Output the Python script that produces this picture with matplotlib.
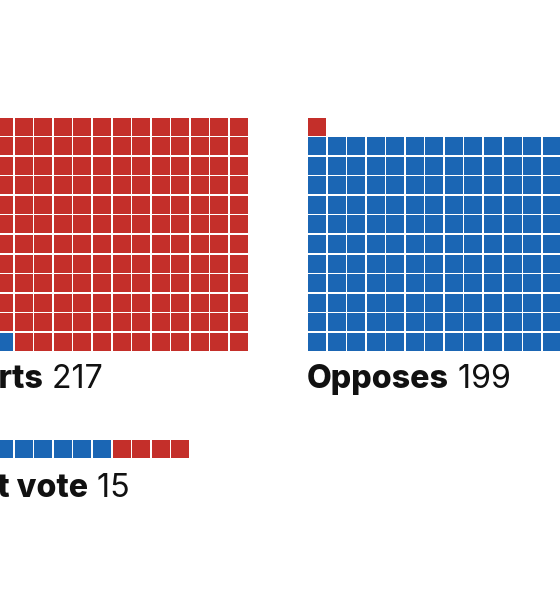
import matplotlib.pyplot as plt
from matplotlib.patches import Rectangle

# House vote breakdown, one square per member
groups = ['Supports', 'Opposes', 'Did not vote']
dem_votes = [6, 198, 11]
rep_votes = [211, 1, 4]

BLUE = '#1b66b4'
RED = '#c42f2a'

# layout in "square" units (one unit = one cell pitch)
ncols = [18, 18, 15]
x_offset = [0, 21, 0]
y_offset = [0, 0, -5.47]
label_drop = [1.91, 1.91, 2.01]
cell = 0.92
px = 19.55  # pixels per cell

fig = plt.figure(figsize=(5.6, 6), dpi=100)
ax = fig.add_axes([0, 0, 1, 1])
left = 102.5 / px
ax.set_xlim(left, left + 560 / px)
ax.set_ylim(-(600 - 350.7) / px, 350.7 / px)
ax.axis('off')

for name, d, r, nc, xo, yo, ld in zip(groups, dem_votes, rep_votes, ncols,
                                      x_offset, y_offset, label_drop):
    colors = [BLUE] * d + [RED] * r
    for i, c in enumerate(colors):
        col = i % nc
        row = i // nc
        ax.add_patch(Rectangle((xo + col, yo + row), cell, cell, facecolor=c, linewidth=0))

    t1 = ax.text(xo - 0.05, yo - ld, name, fontsize=23.2, fontweight='heavy',
                 family='Inter', ha='left', va='baseline', color='#111111')
    ax.annotate(f' {d + r}', xy=(1, 0), xycoords=t1, fontsize=23.2,
                fontweight='normal', family='Inter', ha='left', va='bottom',
                color='#111111')

fig.savefig('out.png', dpi=100)
